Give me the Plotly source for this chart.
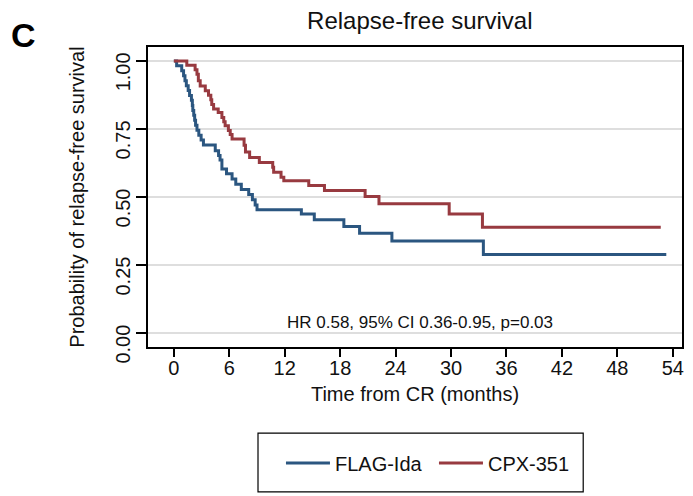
import plotly.graph_objects as go

# FLAG-Ida: event times (months) and survival after each step
flag_time = [0, 0.3, 0.85, 1.05, 1.2, 1.35, 1.55, 1.7, 1.9, 2.0, 2.05, 2.15, 2.25, 2.35, 2.5, 2.7, 2.95, 3.2,
             4.48, 4.84, 5.0, 5.2, 5.7, 6.3, 6.7, 7.3, 8.1, 8.5, 8.8, 9.0,
             13.8, 15.2, 18.4, 20.1, 23.6, 33.5, 53.3]
flag_surv = [1.0, 0.982, 0.964, 0.945, 0.927, 0.909, 0.891, 0.873, 0.855, 0.836, 0.818, 0.8, 0.782, 0.764, 0.745, 0.727, 0.709, 0.691,
             0.67, 0.652, 0.636, 0.603, 0.585, 0.566, 0.547, 0.528, 0.509, 0.49, 0.471, 0.453,
             0.438, 0.416, 0.392, 0.367, 0.338, 0.289, 0.289]

# CPX-351
cpx_time = [0, 1.4, 2.3, 2.5, 2.65, 2.85, 3.4, 3.75, 4.0, 4.1, 4.3, 4.8, 5.2, 5.4, 5.55, 5.9, 6.1, 6.3,
            7.6, 7.75, 8.2, 9.25, 10.7, 10.8, 11.6, 11.9, 14.6, 16.3, 20.7, 22.2, 29.8, 33.4, 52.7]
cpx_surv = [1.0, 0.984, 0.967, 0.951, 0.927, 0.908, 0.89, 0.874, 0.857, 0.84, 0.823, 0.81, 0.792, 0.776, 0.762, 0.744, 0.73, 0.713,
            0.69, 0.665, 0.645, 0.627, 0.609, 0.591, 0.573, 0.56, 0.542, 0.524, 0.502, 0.475, 0.438, 0.389, 0.389]

x_ticks = [0, 6, 12, 18, 24, 30, 36, 42, 48, 54]
y_ticks = [0, 0.25, 0.5, 0.75, 1.0]
y_tick_labels = ["0.00", "0.25", "0.50", "0.75", "1.00"]

FONT = "Arial, Liberation Sans, sans-serif"
BLUE = "#2b5680"
RED = "#983a40"

fig = go.Figure()
fig.add_trace(go.Scatter(x=flag_time, y=flag_surv, mode="lines", name="FLAG-Ida",
                         line=dict(color=BLUE, width=3, shape="hv")))
fig.add_trace(go.Scatter(x=cpx_time, y=cpx_surv, mode="lines", name="CPX-351",
                         line=dict(color=RED, width=3, shape="hv")))

# the page body adds an 8 px offset, so the figure is 8 px smaller than the window
fig.update_layout(
    width=685, height=488,
    margin=dict(l=140, r=11, t=39, b=149, autoexpand=False),
    paper_bgcolor="white", plot_bgcolor="white",
    font=dict(family=FONT, color="#111111", size=20),
    title=dict(text="Relapse-free survival", xref="paper", x=0.509, xanchor="center",
               yref="container", y=0.975, yanchor="middle",
               font=dict(size=24, family=FONT, color="#111111")),
    showlegend=True,
    legend=dict(orientation="h", x=0.249, xanchor="left", y=-0.387, yanchor="middle",
                font=dict(size=20, family=FONT), itemwidth=44, entrywidth=94,
                entrywidthmode="pixels", bgcolor="rgba(0,0,0,0)", traceorder="normal"),
    xaxis=dict(range=[-2.8, 55], tickvals=x_ticks, ticks="outside", ticklen=8, tickwidth=1.5,
               tickcolor="black", showline=True, linecolor="black", linewidth=1.5, mirror=True,
               showgrid=False, zeroline=False, automargin=False, ticklabelstandoff=-6,
               title=dict(text="Time from CR (months)", standoff=9, font=dict(size=20)),
               tickfont=dict(size=20)),
    yaxis=dict(range=[-0.051, 1.051], tickvals=y_ticks, ticktext=y_tick_labels, tickangle=-90,
               ticks="outside", ticklen=10, tickwidth=1.5, tickcolor="black",
               showline=True, linecolor="black", linewidth=1.5, mirror=True,
               showgrid=True, gridcolor="#dedede", gridwidth=1.5, zeroline=False, automargin=False,
               ticklabelshift=14, ticklabelstandoff=-2,
               title=dict(text="Probability of relapse-free survival", standoff=22, font=dict(size=20)),
               tickfont=dict(size=20)),
)

fig.add_annotation(x=26.6, y=0.04, xref="x", yref="y", text="HR 0.58, 95% CI 0.36-0.95, p=0.03",
                   showarrow=False, font=dict(size=17, family=FONT, color="#111111"))
fig.add_annotation(x=-0.234, y=1.04, xref="paper", yref="paper", text="<b>C</b>",
                   showarrow=False, xanchor="center", yanchor="middle",
                   font=dict(size=34, family=FONT, color="black"))
# legend frame
fig.add_shape(type="rect", xref="paper", yref="paper", x0=0.206, x1=0.815, y0=-0.483, y1=-0.287,
              line=dict(color="black", width=1.2), fillcolor="rgba(0,0,0,0)")

fig.write_html("out.html")
